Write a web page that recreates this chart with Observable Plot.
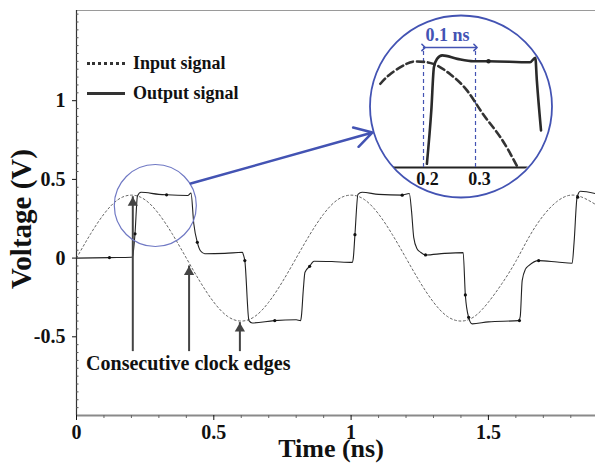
<!DOCTYPE html>
<html><head><meta charset="utf-8">
<script src="https://cdn.jsdelivr.net/npm/d3@7"></script>
<script src="https://cdn.jsdelivr.net/npm/@observablehq/plot@0.6"></script>
<style>
body{margin:0;background:#fff;}
#wrap{position:relative;width:595px;height:465px;overflow:hidden;font-family:"Liberation Serif","Times New Roman",serif;}
#wrap svg{position:absolute;left:0;top:0;}
.leg{position:absolute;left:87px;height:22px;line-height:22px;font-weight:bold;font-size:18px;color:#111;display:flex;align-items:center;white-space:nowrap;}
.sw{display:inline-block;width:38px;height:0;margin-right:8px;}
</style></head><body><div id="wrap"></div>
<script>
// ---- data ----
const inputT = [0,0.05,0.10,0.15,0.20,0.25,0.30,0.35,0.40,0.45,0.50,0.55,0.60,0.65,0.70,0.75,0.80,0.85,0.90,0.95,1.00,1.05,1.10,1.15,1.20,1.25,1.30,1.35,1.40,1.45,1.50,1.55,1.60,1.65,1.70,1.75,1.80,1.85,1.90];
const inputV = [0,0.15,0.28,0.37,0.40,0.37,0.28,0.15,0.0,-0.15,-0.28,-0.37,-0.40,-0.37,-0.28,-0.15,0.0,0.15,0.28,0.37,0.40,0.37,0.28,0.15,0.0,-0.15,-0.28,-0.37,-0.40,-0.37,-0.28,-0.16,-0.02,0.14,0.27,0.36,0.40,0.38,0.33];
const outputT = [0,0.12,0.2,0.204,0.213,0.222,0.235,0.3,0.328,0.405,0.417,0.427,0.44,0.452,0.467,0.54,0.604,0.608,0.613,0.628,0.64,0.72,0.80,0.816,0.819,0.826,0.832,0.849,0.865,0.93,1.004,1.008,1.014,1.025,1.04,1.1,1.186,1.212,1.22,1.228,1.24,1.253,1.271,1.34,1.408,1.416,1.428,1.441,1.5,1.61,1.616,1.623,1.635,1.647,1.683,1.75,1.805,1.812,1.823,1.835,1.89];
const outputV = [0,0.003,0.005,0.01,0.154,0.395,0.418,0.405,0.402,0.398,0.413,0.22,0.10,0.045,0.028,0.03,0.037,0.02,-0.016,-0.397,-0.412,-0.397,-0.392,-0.397,-0.37,-0.2,-0.09,-0.052,-0.02,-0.022,-0.027,0.0,0.149,0.405,0.418,0.405,0.40,0.41,0.3,0.132,0.06,0.037,0.02,0.03,0.035,-0.234,-0.376,-0.418,-0.405,-0.397,-0.37,-0.143,-0.07,-0.048,-0.016,-0.025,-0.033,0.1,0.387,0.425,0.41];
const markT = [0.12,0.213,0.328,0.44,0.613,0.722,0.849,1.014,1.186,1.271,1.416,1.428,1.613,1.683,1.825];
const markV = [0.003,0.154,0.402,0.10,-0.016,-0.397,-0.052,0.149,0.40,0.02,-0.234,-0.376,-0.397,-0.016,0.387];

// zoomed inset readings
const insetInT = [0.117,0.137,0.167,0.187,0.219,0.252,0.284,0.315,0.348,0.38];
const insetInV = [0.316,0.354,0.391,0.40,0.391,0.351,0.29,0.2,0.114,0.005];
const insetOutT = [0.2065,0.215,0.22,0.226,0.236,0.265,0.296,0.325,0.405,0.415,0.418,0.426];
const insetOutV = [0.014,0.215,0.378,0.41,0.423,0.41,0.401,0.401,0.397,0.414,0.328,0.14];
const insetMarkT = [0.325];
const insetMarkV = [0.401];
const insetTicks = [0.2, 0.3];

// axes
const xDomain = [0, 1.89];
const yDomain = [-1, 1.573];
const xTicks = [0, 0.5, 1, 1.5];
const xMinor = [0.1,0.2,0.3,0.4,0.6,0.7,0.8,0.9,1.1,1.2,1.3,1.4,1.6,1.7,1.8];
const yTicks = [-0.5, 0, 0.5, 1];
const yMinor = [-0.95,-0.9,-0.85,-0.8,-0.75,-0.7,-0.65,-0.6,-0.55,-0.45,-0.4,-0.35,-0.3,-0.25,-0.2,-0.15,-0.1,-0.05,0.05,0.1,0.15,0.2,0.25,0.3,0.35,0.4,0.45,0.55,0.6,0.65,0.7,0.75,0.8,0.85,0.9,0.95,1.05,1.1,1.15,1.2,1.25,1.3,1.35,1.4,1.45,1.5,1.55];
const insetX = [0.0942, 0.45];
const insetY = [-0.1132, 0.5736];

// annotations (data coordinates)
const clockArrows = [{t: 0.205, from: -0.556, to: 0.39}, {t: 0.41, from: -0.556, to: -0.05}, {t: 0.595, from: -0.556, to: -0.41}];
const clockLabel = [{t: 0.407, v: -0.669, text: "Consecutive clock edges"}];
const zoomSpot = [{t: 0.287, v: 0.334}];
const connector = [{t1: 0.416, v1: 0.474, t2: 1.078, v2: 0.798}];

const serif = "Liberation Serif, Times New Roman, serif";
const blue = "#4353b3";
const input = inputT.map((t, i) => ({t, v: inputV[i]}));
const output = outputT.map((t, i) => ({t, v: outputV[i]}));
const marksO = markT.map((t, i) => ({t, v: markV[i]}));
const insetIn = insetInT.map((t, i) => ({t, v: insetInV[i]}));
const insetOut = insetOutT.map((t, i) => ({t, v: insetOutV[i]}));
const insetMk = insetMarkT.map((t, i) => ({t, v: insetMarkV[i]}));

const main = Plot.plot({
  width: 595, height: 465,
  marginLeft: 76, marginRight: 0, marginTop: 10, marginBottom: 50,
  x: {domain: xDomain, label: null},
  y: {domain: yDomain, label: null},
  style: {fontFamily: serif, background: "white"},
  marks: [
    Plot.ruleY([yDomain[1]], {stroke: "#9a9a9a", strokeWidth: 1.2}),
    Plot.ruleY([yDomain[0]], {stroke: "#8a8a8a", strokeWidth: 2}),
    Plot.ruleX([xDomain[0]], {stroke: "#333", strokeWidth: 1.2}),
    Plot.axisY({ticks: yTicks, tickSize: 4, tickPadding: 7, tickFormat: d => String(d), fontSize: 20, fontWeight: "bold", fontFamily: serif, color: "#111"}),
    Plot.axisY({ticks: yMinor, tickSize: -2.5, tickFormat: () => "", stroke: "#555"}),
    Plot.axisX({ticks: xTicks, tickSize: 5, tickPadding: 4, tickFormat: d => String(d), fontSize: 20, fontWeight: "bold", fontFamily: serif, color: "#111"}),
    Plot.axisX({ticks: xMinor, tickSize: 3, tickFormat: () => "", stroke: "#666"}),
    Plot.line(input, {x: "t", y: "v", curve: "natural", stroke: "#555", strokeWidth: 0.9, strokeDasharray: "2,2.5"}),
    Plot.line(output, {x: "t", y: "v", curve: "monotone-x", stroke: "#222", strokeWidth: 1.1}),
    Plot.dot(marksO, {x: "t", y: "v", r: 1.6, fill: "#111"}),
    Plot.ruleX(clockArrows, {x: "t", y1: "from", y2: "to", stroke: "#444", strokeWidth: 2, insetTop: 6}),
    Plot.dot(clockArrows, {x: "t", y: "to", symbol: "triangle", r: 3.8, fill: "#444", dy: 6}),
    Plot.text(clockLabel, {x: "t", y: "v", text: "text", fontSize: 20, fontWeight: "bold", fontFamily: serif, fill: "#111"}),
    Plot.dot(zoomSpot, {x: "t", y: "v", r: 41, stroke: "#7079c4", strokeWidth: 1.2, fill: "none"}),
    Plot.arrow(connector, {x1: "t1", y1: "v1", x2: "t2", y2: "v2", stroke: blue, strokeWidth: 2.5, headLength: 12}),
    Plot.text(["Time (ns)"], {text: d => d, frameAnchor: "bottom", lineAnchor: "middle", textAnchor: "middle", dy: 33, dx: -5, fontSize: 26, fontWeight: "bold", fontFamily: serif, fill: "#111"}),
    Plot.text(["Voltage (V)"], {text: d => d, frameAnchor: "left", lineAnchor: "middle", textAnchor: "middle", rotate: -90, dx: -55, dy: 6, fontSize: 29, fontWeight: "bold", fontFamily: serif, fill: "#111"})
  ]
});

const inset = Plot.plot({
  width: 595, height: 465,
  marginLeft: 368, marginRight: 42, marginTop: 15, marginBottom: 268,
  x: {domain: insetX, axis: null},
  y: {domain: insetY, axis: null},
  style: {fontFamily: serif, background: "transparent", pointerEvents: "none"},
  marks: [
    Plot.dot([{t: d3.mean(insetX), v: d3.mean(insetY)}], {x: "t", y: "v", r: 91, fill: "white", stroke: blue, strokeWidth: 1.8}),
    Plot.ruleY([0], {stroke: "#222", strokeWidth: 2.2}),
    Plot.ruleX(insetTicks, {x: d => d, y1: 0, y2: 0.453, stroke: blue, strokeWidth: 1.2, strokeDasharray: "4,3"}),
    Plot.link([insetTicks], {x1: d => d[0], x2: d => d[1], y1: 0.453, y2: 0.453, stroke: blue, strokeWidth: 1.6, markerStart: "arrow", markerEnd: "arrow"}),
    Plot.text(["0.1 ns"], {text: d => d, x: d3.mean(insetTicks), y: 0.479, dx: -2, lineAnchor: "bottom", fontSize: 18, fontWeight: "bold", fontFamily: serif, fill: blue}),
    Plot.text(insetTicks, {x: d => d, y: 0, text: d => String(d), dx: 4, dy: 5, lineAnchor: "top", fontSize: 18, fontWeight: "bold", fontFamily: serif, fill: "#111"}),
    Plot.line(insetIn, {x: "t", y: "v", curve: "natural", stroke: "#333", strokeWidth: 2.6, strokeDasharray: "7,4"}),
    Plot.line(insetOut, {x: "t", y: "v", curve: "monotone-x", stroke: "#2a2a2a", strokeWidth: 2.6}),
    Plot.dot(insetMk, {x: "t", y: "v", r: 2.2, fill: "#222"})
  ]
});

// clip the inset's baseline to its circle
const ns = "http://www.w3.org/2000/svg";
const defs = document.createElementNS(ns, "defs");
const cp = document.createElementNS(ns, "clipPath");
cp.setAttribute("id", "insetclip");
const cc = document.createElementNS(ns, "circle");
cc.setAttribute("cx", inset.scale("x").apply(d3.mean(insetX)));
cc.setAttribute("cy", inset.scale("y").apply(d3.mean(insetY)));
cc.setAttribute("r", 90);
cp.appendChild(cc); defs.appendChild(cp); inset.appendChild(defs);
const rules = inset.querySelectorAll('g[aria-label="rule"]');
if (rules.length) rules[0].setAttribute("clip-path", "url(#insetclip)");

const wrap = document.getElementById("wrap");
wrap.appendChild(main);
wrap.appendChild(inset);

// legend
const legend = [
  {label: "Input signal", top: 52, border: "3px dotted #333"},
  {label: "Output signal", top: 82, border: "3px solid #333"}
];
for (const l of legend) {
  const d = document.createElement("div");
  d.className = "leg";
  d.style.top = l.top + "px";
  const s = document.createElement("span");
  s.className = "sw";
  s.style.borderTop = l.border;
  d.appendChild(s);
  d.appendChild(document.createTextNode(l.label));
  wrap.appendChild(d);
}
</script></body></html>
